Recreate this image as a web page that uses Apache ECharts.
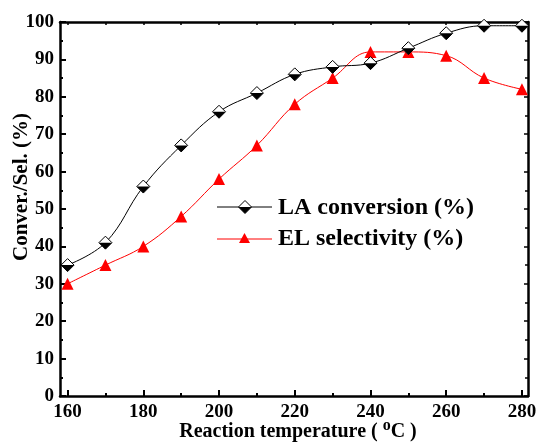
<!DOCTYPE html>
<html><head><meta charset="utf-8">
<script src="https://cdn.jsdelivr.net/npm/echarts@6/dist/echarts.min.js"></script>
<style>html,body{margin:0;padding:0;background:#fff}#c{width:536px;height:442px}</style>
</head><body><div id="c"></div>
<script>
const temperatures = [160,170,180,190,200,210,220,230,240,250,260,270,280];
const laConversion = [35,41,56,67,76,81,86,88,89,93,97,99,99];
const elSelectivity = [30,35,40,48,58,67,78,85,92,92,91,85,82];
const xMajorTicks = [160,180,200,220,240,260,280];
const xMinorTicks = [170,190,210,230,250,270];
const xAllTicks = [160,170,180,190,200,210,220,230,240,250,260,270,280];

const FONT = '"Liberation Serif","Times New Roman",serif';
const la = temperatures.map((t,i)=>[t, laConversion[i]]);
const el = temperatures.map((t,i)=>[t, elSelectivity[i]]);
const axisLineStyle = {color:'#000', width:2.5};

const chart = echarts.init(document.getElementById('c'));
chart.setOption({
  animation:false,
  backgroundColor:'#fff',
  grid:{left:60, right:8, top:22, bottom:46, containLabel:false, outerBoundsMode:'none'},
  xAxis:[
    {type:'value', min:158, max:281.6, position:'bottom',
     axisLine:{lineStyle:axisLineStyle},
     axisTick:{inside:true, length:6, lineStyle:{width:2, color:'#000'}, customValues:xMajorTicks},
     axisLabel:{customValues:xMajorTicks, color:'#000', fontFamily:FONT, fontWeight:'bold', fontSize:19, margin:7},
     splitLine:{show:false},
     name:'Reaction temperature ( {sup|o}C )', nameLocation:'middle', nameGap:22, nameMoveOverlap:false,
     nameTextStyle:{color:'#000', fontFamily:FONT, fontWeight:'bold', fontSize:20, padding:[0,0,0,8],
       rich:{sup:{fontFamily:FONT, fontWeight:'bold', fontSize:16, verticalAlign:'bottom', padding:[0,0,11,0], color:'#000'}}}
    },
    {type:'value', min:158, max:281.6, position:'bottom',
     axisLine:{show:false},
     axisTick:{inside:true, length:3, lineStyle:{width:2, color:'#000'}, customValues:xMinorTicks},
     axisLabel:{show:false}, splitLine:{show:false}},
    {type:'value', min:158, max:281.6, position:'top',
     axisLine:{lineStyle:axisLineStyle},
     axisTick:{inside:true, length:3, lineStyle:{width:1.5, color:'#000'}, customValues:xAllTicks},
     axisLabel:{show:false}, splitLine:{show:false}}
  ],
  yAxis:[
    {type:'value', min:0, max:100, interval:10, position:'left',
     axisLine:{show:true, lineStyle:axisLineStyle},
     axisTick:{show:true, inside:true, length:6, lineStyle:{width:2, color:'#000'}},
     minorTick:{show:true, splitNumber:2, length:3, lineStyle:{width:2, color:'#000'}},
     axisLabel:{color:'#000', fontFamily:FONT, fontWeight:'bold', fontSize:19, margin:6},
     splitLine:{show:false}, minorSplitLine:{show:false},
     name:'Conver./Sel. (%)', nameLocation:'middle', nameGap:28, nameMoveOverlap:false,
     nameTextStyle:{color:'#000', fontFamily:FONT, fontWeight:'bold', fontSize:21, padding:[0,0,0,44]}
    },
    {type:'value', min:0, max:100, interval:10, position:'right',
     axisLine:{show:true, lineStyle:axisLineStyle},
     axisTick:{show:true, inside:true, length:4, lineStyle:{width:1.5, color:'#000'}},
     minorTick:{show:true, splitNumber:2, length:3, lineStyle:{width:1.5, color:'#000'}},
     axisLabel:{show:false}, splitLine:{show:false}}
  ],
  series:[
    {name:'EL selectivity (%)', type:'line', data:el, smooth:0.4,
     symbol:'triangle', symbolSize:12,
     lineStyle:{color:'#ff0000', width:1}, itemStyle:{color:'#ff0000'}, z:3},
    {name:'LA conversion (%)', type:'line', data:la, smooth:0.4,
     symbol:'diamond', symbolSize:[13,13],
     lineStyle:{color:'#000', width:1}, itemStyle:{color:'#fff', borderColor:'#000', borderWidth:1}, z:4},
    {name:'LA lower', type:'line', data:la, smooth:0.4,
     symbol:'path://M0,0L2,0L1,1Z', symbolSize:[13,6.5], symbolOffset:[0,3.25],
     lineStyle:{opacity:0, width:0}, itemStyle:{color:'#000'}, z:5}
  ],
  graphic:[
    {type:'line', shape:{x1:217,y1:207,x2:272,y2:207}, style:{stroke:'#000', lineWidth:1}},
    {type:'polygon', shape:{points:[[245,200.5],[251.5,207],[245,213.5],[238.5,207]]}, style:{fill:'#fff', stroke:'#000', lineWidth:1}},
    {type:'polygon', shape:{points:[[238.5,207],[251.5,207],[245,213.5]]}, style:{fill:'#000'}},
    {type:'text', left:278, top:196, style:{text:'LA conversion (%)', font:'bold 24px '+FONT, fill:'#000'}},
    {type:'line', shape:{x1:217,y1:239,x2:272,y2:239}, style:{stroke:'#ff0000', lineWidth:1}},
    {type:'polygon', shape:{points:[[244.5,233],[250,243],[239,243]]}, style:{fill:'#ff0000'}},
    {type:'text', left:278, top:227, style:{text:'EL selectivity (%)', font:'bold 24px '+FONT, fill:'#000'}}
  ]
});
</script></body></html>
